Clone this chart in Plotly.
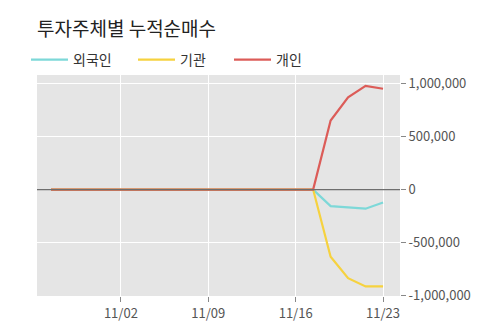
import plotly.graph_objects as go

dates = ["10/27", "10/28", "10/29", "10/30",
         "11/02", "11/03", "11/04", "11/05", "11/06",
         "11/09", "11/10", "11/11", "11/12", "11/13",
         "11/16", "11/17", "11/18", "11/19", "11/20", "11/23"]
foreign = [0]*16 + [-156000, -165000, -180000, -121000]
institution = [0]*16 + [-633000, -835000, -913000, -913000]
individual = [0]*16 + [651000, 869000, 978000, 950000]

series_names = ["외국인", "기관", "개인"]
series_colors = ["#7dd8d8", "#f6d23f", "#dc5c58"]

x_tick_vals = ["11/02", "11/09", "11/16", "11/23"]
y_tick_vals = [-1000000, -500000, 0, 500000, 1000000]
y_tick_text = ["-1,000,000", "-500,000", "0", "500,000", "1,000,000"]

font_family = "Noto Sans CJK KR"
W, H = 500, 323
L, R, T, B = 37, 100, 75, 27
pw = W - L - R
ph = H - T - B

legend_ids = ["legend", "legend2", "legend3"]
legend_left_px = [26, 133, 229]

fig = go.Figure()
for name, vals, col, lid in zip(series_names, [foreign, institution, individual], series_colors, legend_ids):
    fig.add_trace(go.Scatter(x=dates, y=vals, mode="lines", name=name, legend=lid,
                             line=dict(color=col, width=2.2)))

legend_layout = {}
for lid, px in zip(legend_ids, legend_left_px):
    legend_layout[lid] = dict(orientation="h", x=(px - L) / pw, xanchor="left",
                              y=1 + 15 / ph, yanchor="middle",
                              font=dict(family=font_family, size=14, color="#333333"),
                              bgcolor="rgba(0,0,0,0)", itemwidth=37)

fig.update_layout(
    width=W, height=H,
    margin=dict(l=L, r=R, t=T, b=B, autoexpand=False),
    paper_bgcolor="white",
    plot_bgcolor="#e5e5e5",
    font=dict(family=font_family, size=13, color="#555555"),
    title=dict(text="투자주체별 누적순매수", x=L / W, xanchor="left",
               y=1 - 29 / H, yanchor="middle",
               font=dict(family=font_family, size=19, color="#222222")),
    showlegend=True,
    **legend_layout,
)
# zero reference line drawn above the series, as in the original
fig.add_hline(y=0, line=dict(color="#6e6e6e", width=1.2), layer="above")
fig.update_xaxes(type="category", categoryorder="array", categoryarray=dates,
                 range=[-0.8, 19.97], automargin=False,
                 tickmode="array", tickvals=x_tick_vals, ticktext=x_tick_vals,
                 showgrid=True, gridcolor="white", gridwidth=1,
                 ticks="outside", ticklen=5, tickcolor="#888888",
                 tickfont=dict(size=13, color="#555555"), zeroline=False, showline=False)
fig.update_yaxes(side="right", range=[-1003000, 1080000], automargin=False,
                 tickmode="array", tickvals=y_tick_vals, ticktext=y_tick_text,
                 showgrid=True, gridcolor="white", gridwidth=1,
                 zeroline=False,
                 ticks="outside", ticklen=5, tickcolor="#888888",
                 tickfont=dict(size=13, color="#555555"), showline=False)

fig.write_html("out.html")
